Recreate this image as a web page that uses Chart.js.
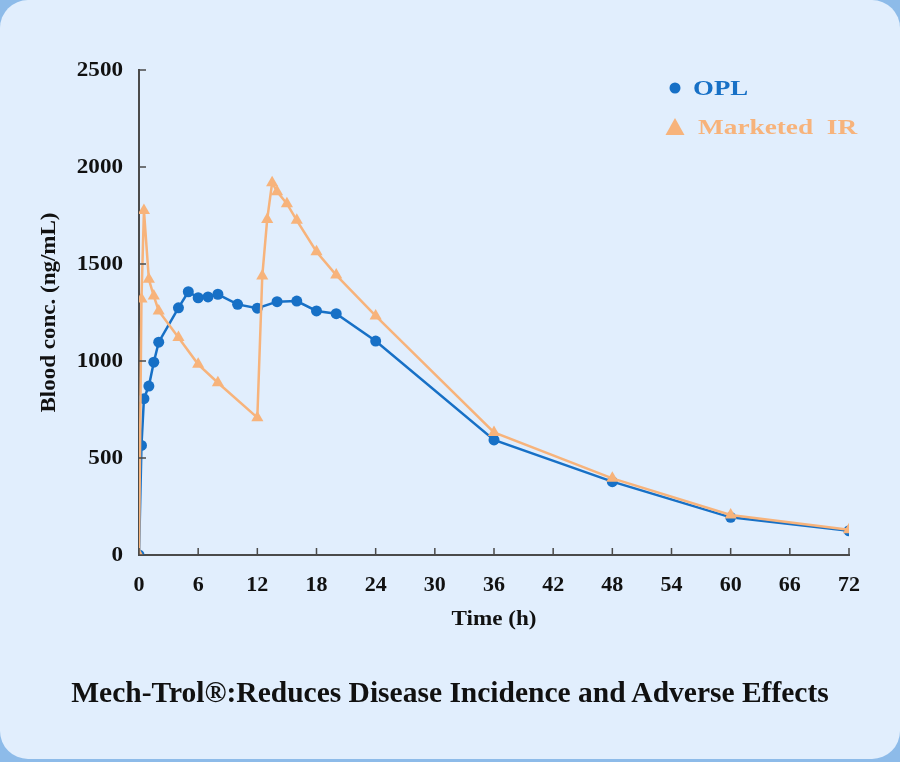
<!DOCTYPE html>
<html>
<head>
<meta charset="utf-8">
<script src="https://cdn.jsdelivr.net/npm/chart.js@4.4.1/dist/chart.umd.min.js"></script>
<style>
  html, body { margin: 0; padding: 0; background: #8dbbe9; }
  #panel {
    position: absolute; left: 0; top: 0; width: 900px; height: 759px;
    background: #e1eefd; border-radius: 28px; overflow: hidden;
  }
  #wrap { position: absolute; left: 0; top: 0; width: 900px; height: 762px; }
  #caption {
    position: absolute; left: 0; width: 900px; top: 676px; text-align: center;
    font-family: "Liberation Serif", "Times New Roman", serif; font-weight: bold;
    font-size: 29.5px; color: #111;
  }
</style>
</head>
<body>
<div id="panel"></div>
<div id="wrap"><canvas id="graphCanvas" width="900" height="762"></canvas></div>
<div id="caption">Mech-Trol®:Reduces Disease Incidence and Adverse Effects</div>
<script>
// time points (h) and blood concentrations (ng/mL)
const oplTime = [0, 0.25, 0.5, 1, 1.5, 2, 4, 5, 6, 7, 8, 10, 12, 14, 16, 18, 20, 24, 36, 48, 60, 72];
const oplConc = [0, 565, 806, 871, 994, 1097, 1274, 1357, 1326, 1330, 1344, 1292, 1272, 1306, 1309, 1258, 1244, 1103, 593, 378, 194, 125];
const irTime = [0, 0.25, 0.5, 1, 1.5, 2, 4, 6, 8, 12, 12.5, 13, 13.5, 14, 15, 16, 18, 20, 24, 36, 48, 60, 72];
const irConc = [0, 1320, 1776, 1421, 1335, 1258, 1121, 983, 888, 708, 1438, 1730, 1919, 1873, 1811, 1725, 1563, 1443, 1232, 632, 395, 206, 130];
const xTicks = [0, 6, 12, 18, 24, 30, 36, 42, 48, 54, 60, 66, 72];
const yTicks = [0, 500, 1000, 1500, 2000, 2500];
const seriesNames = ["OPL", "Marketed  IR"];
const xTitle = "Time (h)";
const yTitle = "Blood conc. (ng/mL)";

const BLUE = "#1770c6";
const ORANGE = "#f7b37b";
const AXIS = "#4a4a4a";
const INK = "#111";
const SERIF = "'Liberation Serif', 'Times New Roman', serif";

const toPoints = (xs, ys) => xs.map((x, i) => ({ x: x, y: ys[i] }));

// the original type is a little wider than Liberation Serif in places, so allow a stretch
function wideText(ctx, text, x, y, opts) {
  ctx.save();
  ctx.translate(x, y);
  if (opts.rotate) ctx.rotate(opts.rotate);
  ctx.scale(opts.sx || 1, 1);
  ctx.font = opts.font;
  ctx.fillStyle = opts.color || INK;
  ctx.textAlign = opts.align || "left";
  ctx.textBaseline = "middle";
  ctx.fillText(text, 0, 0);
  ctx.restore();
}

// inward tick marks, tick labels and axis titles
const axisDecor = {
  id: "axisDecor",
  afterDraw(chart) {
    const { ctx, chartArea, scales } = chart;
    ctx.save();
    ctx.strokeStyle = AXIS;
    ctx.lineWidth = 1.5;
    ctx.beginPath();
    xTicks.forEach((t) => {
      const px = scales.x.getPixelForValue(t);
      ctx.moveTo(px, chartArea.bottom);
      ctx.lineTo(px, chartArea.bottom - 7);
    });
    yTicks.forEach((t) => {
      const py = scales.y.getPixelForValue(t);
      ctx.moveTo(chartArea.left, py);
      ctx.lineTo(chartArea.left + 7, py);
    });
    ctx.stroke();
    ctx.restore();

    xTicks.forEach((t) => {
      wideText(ctx, String(t), scales.x.getPixelForValue(t), chartArea.bottom + 30,
        { font: "bold 22px " + SERIF, align: "center", sx: 1.0 });
    });
    yTicks.forEach((t) => {
      wideText(ctx, String(t), chartArea.left - 16, scales.y.getPixelForValue(t) + 1,
        { font: "bold 21px " + SERIF, align: "right", sx: 1.1 });
    });

    wideText(ctx, xTitle, (chartArea.left + chartArea.right) / 2, chartArea.bottom + 65,
      { font: "bold 21px " + SERIF, align: "center", sx: 1.1 });
    wideText(ctx, yTitle, 50, (chartArea.top + chartArea.bottom) / 2,
      { font: "bold 20px " + SERIF, align: "center", sx: 1.15, rotate: -Math.PI / 2 });
  },
};

// legend in the upper right of the plot
const cornerLegend = {
  id: "cornerLegend",
  afterDraw(chart) {
    const ctx = chart.ctx;
    const font = "bold 22px " + SERIF;
    ctx.save();
    ctx.fillStyle = BLUE;
    ctx.beginPath();
    ctx.arc(675, 88, 5.5, 0, Math.PI * 2);
    ctx.fill();
    ctx.fillStyle = ORANGE;
    ctx.beginPath();
    ctx.moveTo(675, 118);
    ctx.lineTo(684.5, 135);
    ctx.lineTo(665.5, 135);
    ctx.closePath();
    ctx.fill();
    ctx.restore();
    wideText(ctx, seriesNames[0], 693, 89, { font: font, color: BLUE, sx: 1.22 });
    wideText(ctx, seriesNames[1], 698, 128, { font: font, color: ORANGE, sx: 1.24 });
  },
};

new Chart(document.getElementById("graphCanvas"), {
  type: "scatter",
  data: {
    datasets: [
      {
        label: seriesNames[0],
        data: toPoints(oplTime, oplConc),
        showLine: true,
        borderColor: BLUE,
        backgroundColor: BLUE,
        borderWidth: 2.5,
        pointStyle: "circle",
        pointRadius: 5.5,
        pointBorderWidth: 0,
        order: 1,
      },
      {
        label: seriesNames[1],
        data: toPoints(irTime, irConc),
        showLine: true,
        borderColor: ORANGE,
        backgroundColor: ORANGE,
        borderWidth: 2.5,
        pointStyle: "triangle",
        pointRadius: 7,
        pointBorderWidth: 0,
        order: 0,
      },
    ],
  },
  options: {
    responsive: false,
    animation: false,
    layout: { padding: { top: 70, right: 51, left: 0, bottom: 0 } },
    plugins: {
      legend: { display: false },
      tooltip: { enabled: false },
    },
    scales: {
      x: {
        type: "linear",
        min: 0,
        max: 72,
        afterFit: (s) => { s.height = 207; },
        afterBuildTicks: (s) => { s.ticks = xTicks.map((v) => ({ value: v })); },
        grid: { display: false, drawTicks: false },
        border: { display: true, color: AXIS, width: 2 },
        ticks: { display: false },
      },
      y: {
        type: "linear",
        min: 0,
        max: 2500,
        afterFit: (s) => { s.width = 139; },
        afterBuildTicks: (s) => { s.ticks = yTicks.map((v) => ({ value: v })); },
        grid: { display: false, drawTicks: false },
        border: { display: true, color: AXIS, width: 2 },
        ticks: { display: false },
      },
    },
  },
  plugins: [axisDecor, cornerLegend],
});
</script>
</body>
</html>
